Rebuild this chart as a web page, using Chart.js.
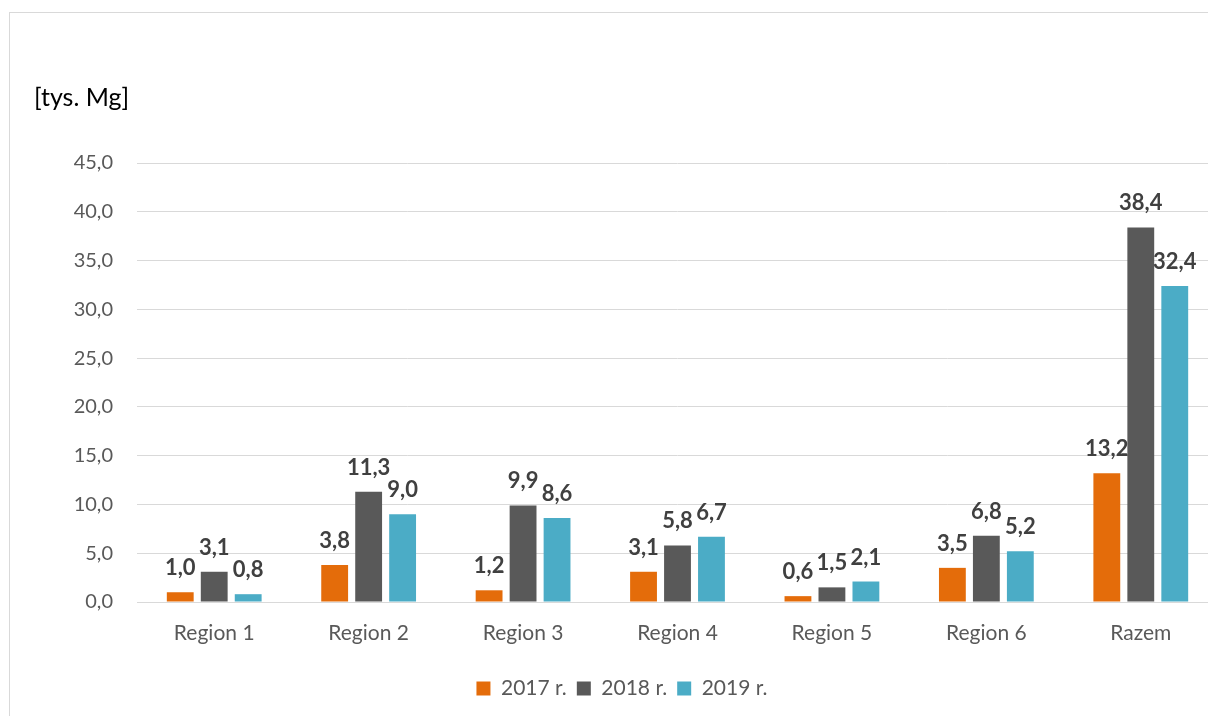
<!DOCTYPE html>
<html>
<head>
<meta charset="utf-8">
<script src="https://cdn.jsdelivr.net/npm/chart.js@4"></script>
<style>
  html, body { margin: 0; padding: 0; background: #fff; }
  #wrap { position: relative; width: 1208px; height: 716px; overflow: hidden; }
  #frame { position: absolute; left: 9px; top: 12px; width: 1300px; height: 800px; border: 1px solid #d9d9d9; }
  canvas { position: absolute; left: 0; top: 0; }
</style>
</head>
<body>
<div id="wrap">
  <div id="frame"></div>
  <canvas id="chart" width="1240" height="716"></canvas>
</div>
<script>
const categories = ['Region 1', 'Region 2', 'Region 3', 'Region 4', 'Region 5', 'Region 6', 'Razem'];
const values2017 = [1.0, 3.8, 1.2, 3.1, 0.6, 3.5, 13.2];
const values2018 = [3.1, 11.3, 9.9, 5.8, 1.5, 6.8, 38.4];
const values2019 = [0.8, 9.0, 8.6, 6.7, 2.1, 5.2, 32.4];
const seriesNames = ['2017 r.', '2018 r.', '2019 r.'];
const yTicks = [0, 5, 10, 15, 20, 25, 30, 35, 40, 45];

const fontFamily = 'Lato, "Open Sans", sans-serif';
const fmt = v => v.toFixed(1).replace('.', ',');

// draws the bold value above each bar
const barLabels = {
    id: 'barLabels',
    afterDatasetsDraw(chart) {
        const ctx = chart.ctx;
        ctx.save();
        ctx.font = 'bold 22px ' + fontFamily;
        ctx.fillStyle = '#404040';
        ctx.textAlign = 'center';
        ctx.textBaseline = 'alphabetic';
        chart.data.datasets.forEach((ds, i) => {
            chart.getDatasetMeta(i).data.forEach((bar, j) => {
                ctx.fillText(fmt(ds.data[j]), bar.x, bar.y - 17);
            });
        });
        ctx.restore();
    }
};

// unit label in the top left corner
const unitLabel = {
    id: 'unitLabel',
    afterDraw(chart) {
        const ctx = chart.ctx;
        ctx.save();
        ctx.font = '25px ' + fontFamily;
        ctx.fillStyle = '#000';
        ctx.textAlign = 'left';
        ctx.textBaseline = 'middle';
        ctx.fillText('[tys. Mg]', 34, 98);
        ctx.restore();
    }
};

new Chart(document.getElementById('chart'), {
    type: 'bar',
    data: {
        labels: categories,
        datasets: [
            { label: seriesNames[0], data: values2017, backgroundColor: '#E46C0A' },
            { label: seriesNames[1], data: values2018, backgroundColor: '#595959' },
            { label: seriesNames[2], data: values2019, backgroundColor: '#4BACC6' }
        ]
    },
    options: {
        responsive: false,
        animation: false,
        layout: { padding: { top: 163, right: 22, left: 26, bottom: 7 } },
        datasets: { bar: { categoryPercentage: 0.66, barPercentage: 0.79 } },
        scales: {
            x: {
                grid: { display: false },
                border: { color: '#d9d9d9', width: 1 },
                ticks: { color: '#595959', font: { family: fontFamily, size: 21 }, padding: 11 },
                afterFit(scale) { scale.height = 66; }
            },
            y: {
                min: 0,
                max: 45,
                afterBuildTicks(scale) { scale.ticks = yTicks.map(v => ({ value: v })); },
                grid: { color: '#d9d9d9', drawTicks: false },
                border: { display: false },
                ticks: {
                    color: '#595959',
                    font: { family: fontFamily, size: 20 },
                    padding: 24,
                    callback: v => fmt(v)
                },
                afterFit(scale) { scale.width = 111; }
            }
        },
        plugins: {
            legend: {
                position: 'bottom',
                labels: {
                    color: '#595959',
                    font: { family: fontFamily, size: 21 },
                    boxWidth: 14,
                    boxHeight: 14,
                    padding: 10
                }
            },
            tooltip: { enabled: false }
        }
    },
    plugins: [barLabels, unitLabel]
});
</script>
</body>
</html>
